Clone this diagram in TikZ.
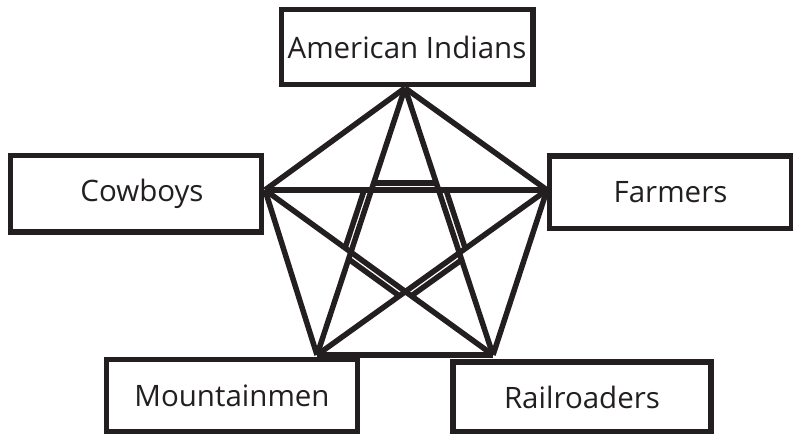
\documentclass[tikz,border=0pt]{standalone}
\usepackage{fontspec}
\setmainfont{Open Sans}
\usetikzlibrary{calc}
\definecolor{ink}{HTML}{231F20}
\tikzset{
  groupbox/.style={draw=ink,line width=5.5pt,inner sep=0pt,text=ink,
    font=\fontsize{29.5}{33}\selectfont},
  tie/.style={draw=ink,line width=5.5pt}
}
\begin{document}
\begin{tikzpicture}[x=1pt,y=-1pt]
  \useasboundingbox (0,0) rectangle (793,434);
  % Groups
  \node[groupbox,minimum width=251.5pt,minimum height=75pt] (indians) at (407,47) {American Indians};
  \node[groupbox,minimum width=251pt,minimum height=76.5pt] (cowboys) at (136,193.75) {\hspace{12pt}Cowboys};
  \node[groupbox,minimum width=242pt,minimum height=72.5pt] (farmers) at (670.5,192) {Farmers\hspace{24pt}};
  \node[groupbox,minimum width=251pt,minimum height=72.5pt] (mountainmen) at (232,395.75) {Mountainmen};
  \node[groupbox,minimum width=258pt,minimum height=70pt] (railroaders) at (582,397) {Railroaders\hspace{8pt}};
  % Corners of the pentagon
  \coordinate (T) at (405,88);
  \coordinate (L) at (265,190);
  \coordinate (R) at (547,190);
  \coordinate (BL) at (317,355);
  \coordinate (BR) at (493,355);
  % Pentagon and star
  \foreach \a/\b in {T/L,T/R,L/BL,R/BR,BL/BR,T/BL,T/BR,L/R,L/BR,R/BL}
    \draw[tie] (\a) -- (\b);
  % Inner points of the star
  \coordinate (A) at (intersection of T--BL and L--R);
  \coordinate (B) at (intersection of T--BR and L--R);
  \coordinate (C) at (intersection of T--BR and R--BL);
  \coordinate (D) at (intersection of L--BR and R--BL);
  \coordinate (E) at (intersection of L--BR and T--BL);
  % Doubled inner edges
  \foreach \p/\q/\tip in {A/B/T,B/C/R,C/D/BR,D/E/BL,E/A/L}
    \draw[tie] ($(\p)!0.068!(\tip)$) -- ($(\q)!0.068!(\tip)$);
\end{tikzpicture}
\end{document}
